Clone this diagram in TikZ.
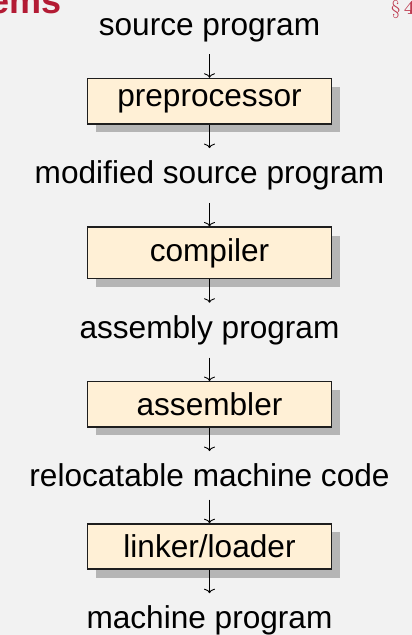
\documentclass[tikz,border=0pt]{standalone}
\usepackage{fontspec}
\newfontfamily\diagfont{Liberation Sans}
\usetikzlibrary{positioning,shadows,arrows.meta}

\definecolor{pagebg}{HTML}{F2F2F2}
\definecolor{boxfill}{HTML}{FFF0D6}
\definecolor{boxline}{HTML}{1E1E1E}
\definecolor{shadowgray}{HTML}{B5B5B5}
\definecolor{titlered}{HTML}{B31B34}

\begin{document}
\begin{tikzpicture}[x=1pt,y=1pt,
  every node/.style={font=\diagfont\fontsize{31.6}{38}\selectfont},
  data/.style={inner xsep=0pt, inner ysep=12.5pt},
  stage/.style={draw=boxline, line width=1.3pt, fill=boxfill,
    minimum width=244pt, inner ysep=11pt,
    drop shadow={shadow xshift=8.5pt, shadow yshift=-8.5pt,
      fill=shadowgray, opacity=1}},
  flow/.style={line width=0.9pt, -{To[length=4.5pt,width=11pt]}},
  node distance=23.5pt]

% slide background and page frame
\fill[pagebg] (0,-635) rectangle (412,0);
\useasboundingbox (0,-635) rectangle (412,0);

% slide header fragments
\node[anchor=base east, inner sep=0pt, text=titlered,
  font=\diagfont\fontsize{36}{40}\selectfont\bfseries] (title) at (62,-13) {Systems};
\node[anchor=base west, inner sep=0pt, text=titlered!85,
  font=\rmfamily\fontsize{20}{24}\selectfont] (sect) at (391,-14) {\S\,\textbf{4}};

% language-processing pipeline
\node[data, anchor=base] (src) at (209.5,-35) {source program};
\node[stage, below=of src] (pre) {preprocessor};
\node[data, below=of pre] (mod) {modified source program};
\node[stage, below=of mod] (comp) {compiler};
\node[data, below=of comp] (asm) {assembly program};
\node[stage, below=of asm] (asmr) {assembler};
\node[data, below=of asmr] (reloc) {relocatable machine code};
\node[stage, below=of reloc] (link) {linker/loader};
\node[data, below=of link] (mach) {machine program};

\draw[flow] (src) -- (pre);
\draw[flow] (pre) -- (mod);
\draw[flow] (mod) -- (comp);
\draw[flow] (comp) -- (asm);
\draw[flow] (asm) -- (asmr);
\draw[flow] (asmr) -- (reloc);
\draw[flow] (reloc) -- (link);
\draw[flow] (link) -- (mach);
\end{tikzpicture}
\end{document}
